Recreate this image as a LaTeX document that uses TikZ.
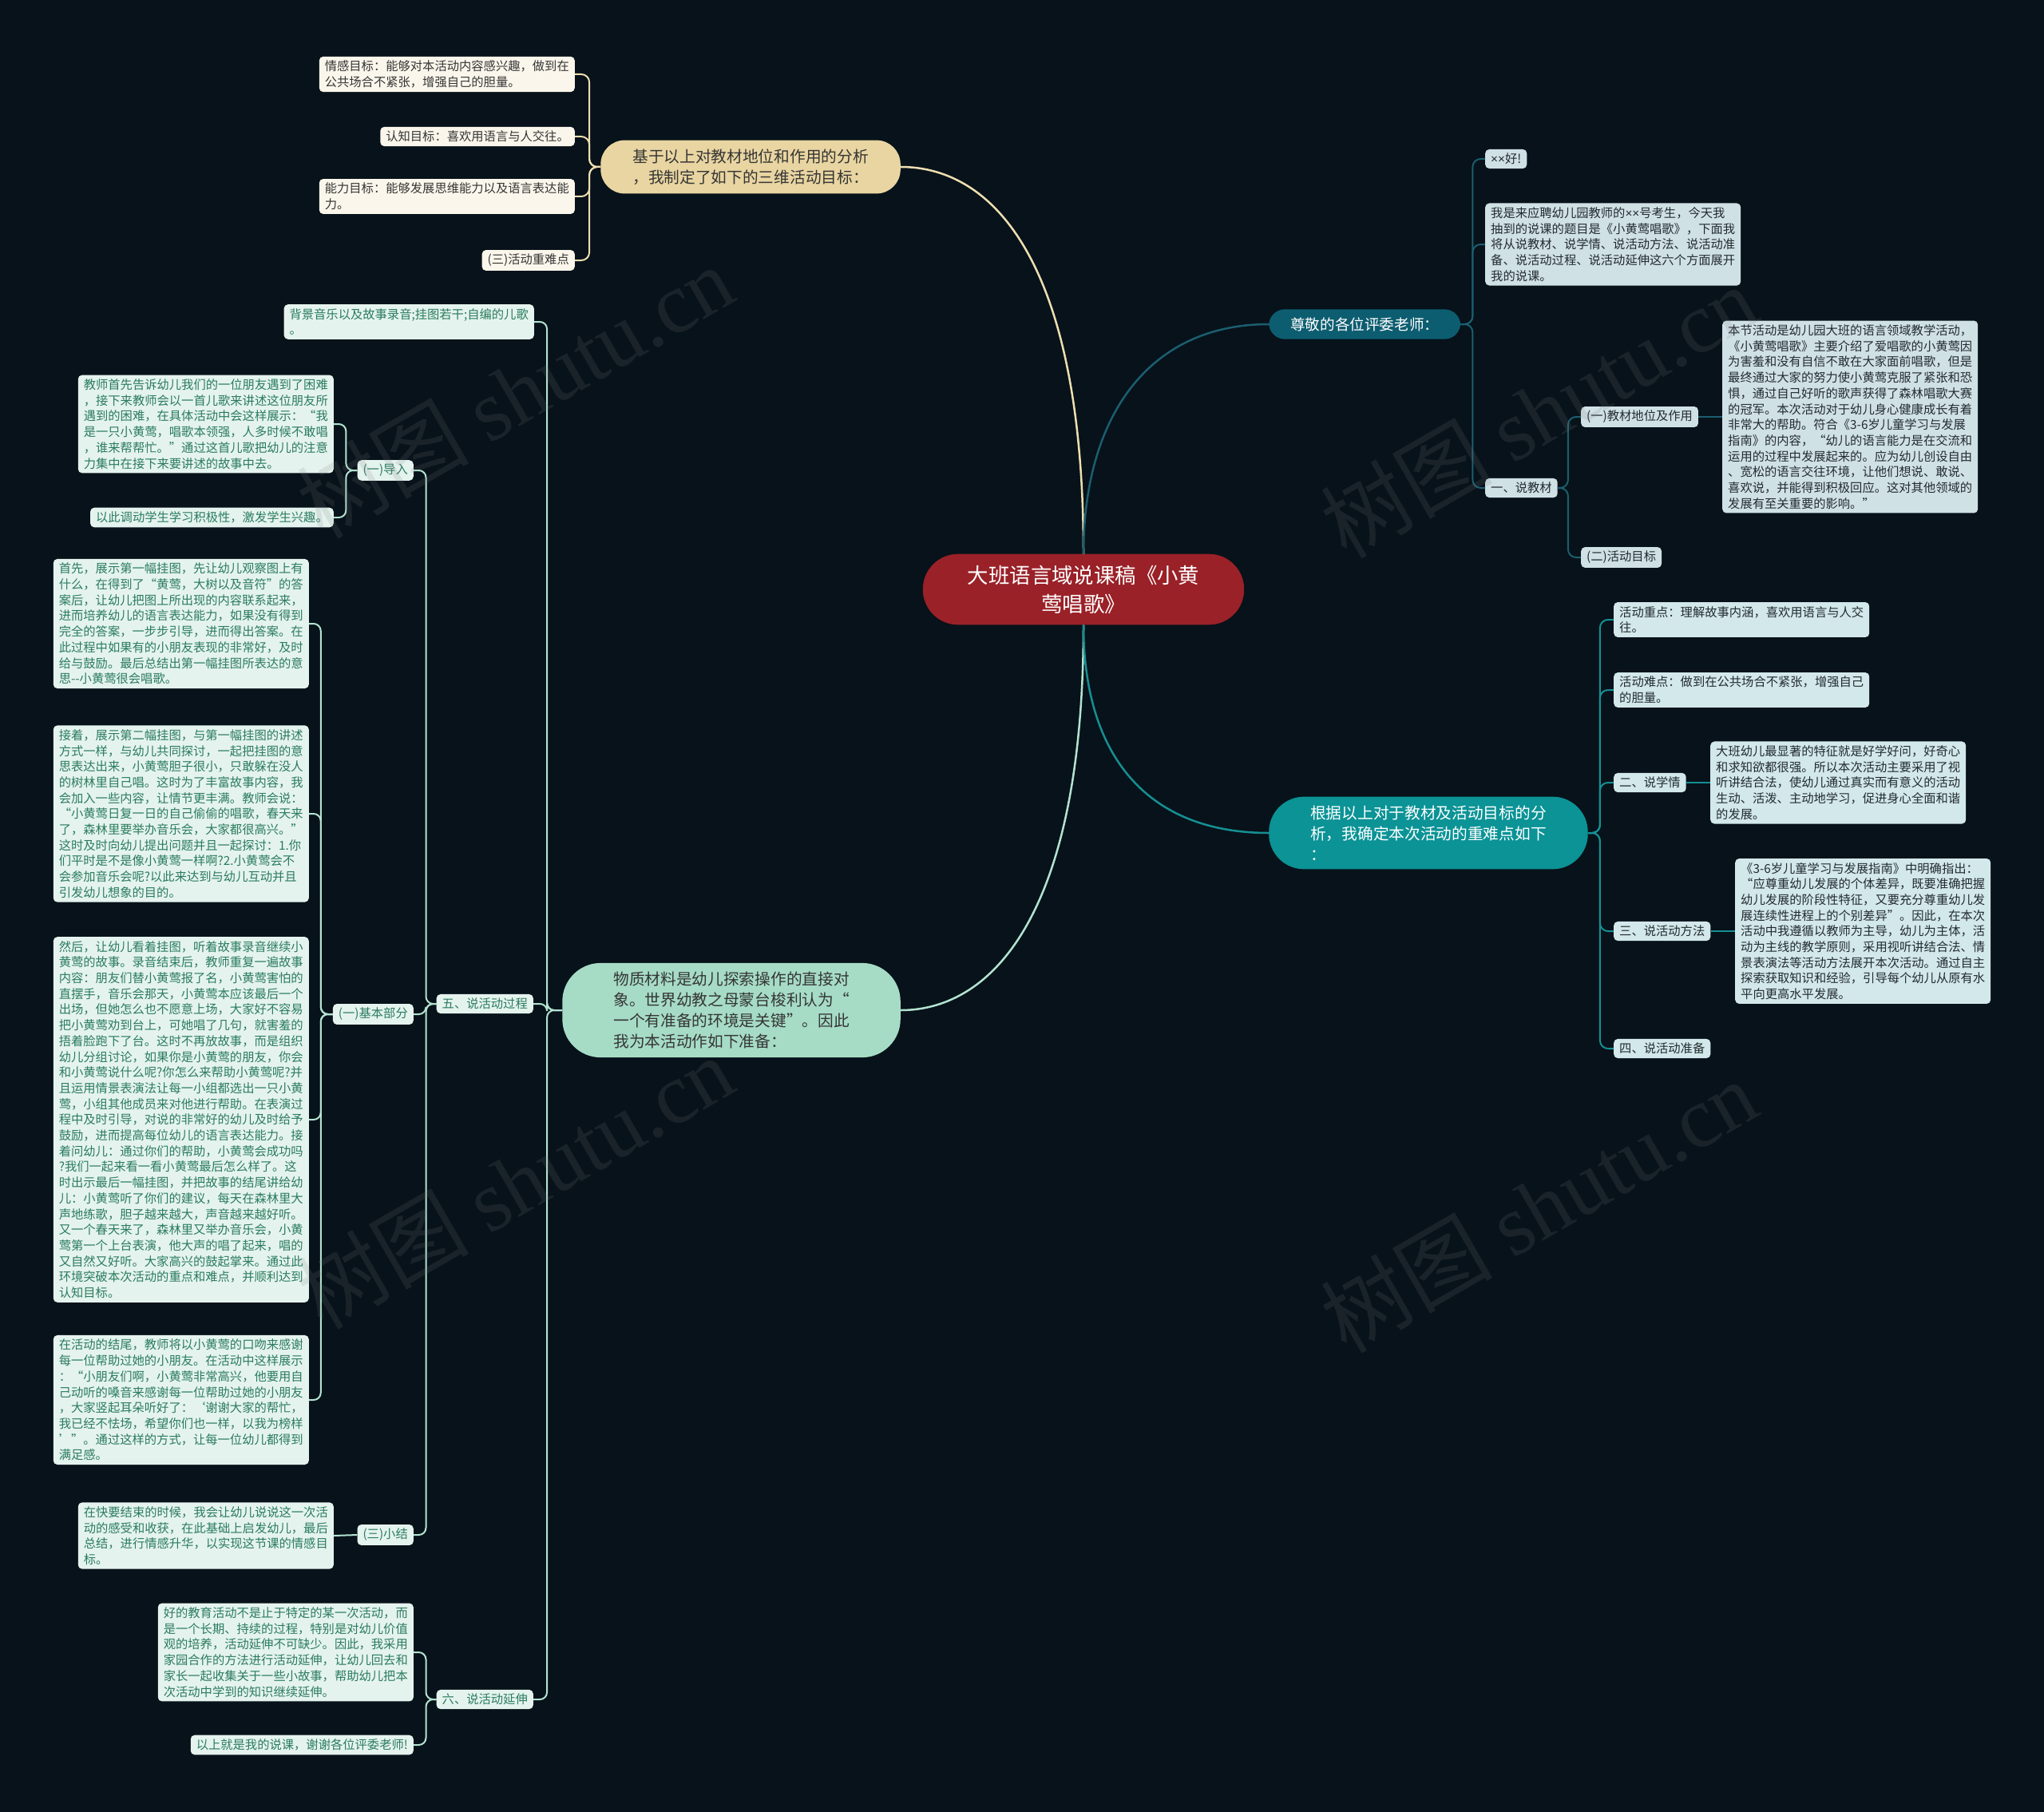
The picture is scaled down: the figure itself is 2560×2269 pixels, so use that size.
\documentclass[tikz,border=0pt]{standalone}
\usepackage{fontspec}
\setmainfont{Noto Sans CJK SC}
\newfontfamily\wmlatin{Liberation Serif}
\newfontfamily\latinf{Liberation Sans}
\newcommand\tms{{\latinf ×}}
\newcommand\fleaf{\fontsize{15.3pt}{19.7pt}\selectfont}
\newcommand\fbranch{\fontsize{19.7pt}{26pt}\selectfont}
\newcommand\fzun{\fontsize{18.6pt}{24pt}\selectfont}
\newcommand\fcentre{\fontsize{26.4pt}{36pt}\selectfont}
\definecolor{bgc}{HTML}{07121A}
\definecolor{centrefill}{HTML}{9A2128}
\definecolor{yfill}{HTML}{E9D5A1}
\definecolor{ylc}{HTML}{EEDFB0}
\definecolor{creamfill}{HTML}{FBF6EB}
\definecolor{creamtext}{HTML}{353535}
\definecolor{gfill}{HTML}{A6DCC6}
\definecolor{glc}{HTML}{B3E3D0}
\definecolor{mintfill}{HTML}{E5F3EE}
\definecolor{minttext}{HTML}{2A7C5F}
\definecolor{zfill}{HTML}{0D5D70}
\definecolor{zlc}{HTML}{1B5E6F}
\definecolor{bluefill}{HTML}{D0E1E6}
\definecolor{bluetext}{HTML}{222B30}
\definecolor{tfill}{HTML}{0B9396}
\definecolor{tlc}{HTML}{168F92}
\definecolor{aquafill}{HTML}{D3E8EA}
\tikzset{
  leafbase/.style={rounded corners=5pt, inner xsep=7pt, inner ysep=5pt, align=left, font=\fleaf},
  lfcream/.style={leafbase, fill=creamfill, text=creamtext},
  lfmint/.style={leafbase, fill=mintfill, text=minttext},
  lfblue/.style={leafbase, fill=bluefill, text=bluetext},
  lfaqua/.style={leafbase, fill=aquafill, text=bluetext},
  ybranch/.style={fill=yfill, text=creamtext, rounded corners=30pt, inner xsep=40pt, inner ysep=11pt, align=left, font=\fbranch},
  gbranch/.style={fill=gfill, text=creamtext, rounded corners=48pt, inner xsep=64pt, inner ysep=11pt, align=left, font=\fbranch},
  zbranch/.style={fill=zfill, text=white, rounded corners=20pt, inner xsep=27pt, inner ysep=10pt, align=left, font=\fzun},
  tbranch/.style={fill=tfill, text=white, rounded corners=44pt, inner xsep=52pt, inner ysep=11pt, align=left, font=\fbranch},
  centrebox/.style={fill=centrefill, text=white, rounded corners=44pt, inner xsep=56pt, inner ysep=14pt, align=center, font=\fcentre},
  ylink/.style={draw=ylc, line width=2pt, rounded corners=10pt},
  glink/.style={draw=glc, line width=2pt, rounded corners=9pt},
  zlink/.style={draw=zlc, line width=2pt, rounded corners=10pt},
  tlink/.style={draw=tlc, line width=2pt, rounded corners=10pt},
  toL/.style={to path={-- ++(-#1,0) |- (\tikztotarget)}},
  toR/.style={to path={-- ++(#1,0) |- (\tikztotarget)}},
  wmark/.style={rotate=30, text=gray, text opacity=0.16, font=\fontsize{108pt}{108pt}\selectfont},
}
\begin{document}
\begin{tikzpicture}[x=1pt,y=-1pt]
\fill[bgc] (0,0) rectangle (2560,2269);
\useasboundingbox (0,0) rectangle (2560,2269);

% centre and branches
\node[centrebox] (C) at (1357,738) {大班语言域说课稿《小黄\\莺唱歌》};
\node[ybranch, anchor=east] (Y) at (1128,209) {基于以上对教材地位和作用的分析\\，我制定了如下的三维活动目标：};
\node[gbranch, anchor=east] (G) at (1128,1265) {物质材料是幼儿探索操作的直接对\\象。世界幼教之母蒙台梭利认为“\\一个有准备的环境是关键”。因此\\我为本活动作如下准备：};
\node[zbranch, anchor=west] (Z) at (1589,406) {尊敬的各位评委老师：};
\node[tbranch, anchor=west] (T) at (1589,1043) {根据以上对于教材及活动目标的分\\析，我确定本次活动的重难点如下\\：};

% yellow subtree
\node[lfcream, anchor=east] (Y1) at (720,93) {情感目标：能够对本活动内容感兴趣，做到在\\公共场合不紧张，增强自己的胆量。};
\node[lfcream, anchor=east] (Y2) at (720,171) {认知目标：喜欢用语言与人交往。};
\node[lfcream, anchor=east] (Y3) at (720,246) {能力目标：能够发展思维能力以及语言表达能\\力。};
\node[lfcream, anchor=east] (Y4) at (720,326) {(三)活动重难点};

% green subtree
\node[lfmint, anchor=east] (G1) at (669,403) {背景音乐以及故事录音;挂图若干;自编的儿歌\\。};
\node[lfmint, anchor=east] (G5) at (668,1257) {五、说活动过程};
\node[lfmint, anchor=east] (G6) at (668,2128) {六、说活动延伸};

\node[lfmint, anchor=east] (P1) at (518,589) {(一)导入};
\node[lfmint, anchor=east] (P2) at (518,1270) {(一)基本部分};
\node[lfmint, anchor=east] (P3) at (518,1922) {(三)小结};

\node[lfmint, anchor=east] (A1) at (418,531) {教师首先告诉幼儿我们的一位朋友遇到了困难\\，接下来教师会以一首儿歌来讲述这位朋友所\\遇到的困难，在具体活动中会这样展示：“我\\是一只小黄莺，唱歌本领强，人多时候不敢唱\\，谁来帮帮忙。”通过这首儿歌把幼儿的注意\\力集中在接下来要讲述的故事中去。};
\node[lfmint, anchor=east] (A2) at (418,648) {以此调动学生学习积极性，激发学生兴趣。};

\node[lfmint, anchor=east] (B1) at (387,781) {首先，展示第一幅挂图，先让幼儿观察图上有\\什么，在得到了“黄莺，大树以及音符”的答\\案后，让幼儿把图上所出现的内容联系起来，\\进而培养幼儿的语言表达能力，如果没有得到\\完全的答案，一步步引导，进而得出答案。在\\此过程中如果有的小朋友表现的非常好，及时\\给与鼓励。最后总结出第一幅挂图所表达的意\\思-{}-小黄莺很会唱歌。};
\node[lfmint, anchor=east] (B2) at (387,1019) {接着，展示第二幅挂图，与第一幅挂图的讲述\\方式一样，与幼儿共同探讨，一起把挂图的意\\思表达出来，小黄莺胆子很小，只敢躲在没人\\的树林里自己唱。这时为了丰富故事内容，我\\会加入一些内容，让情节更丰满。教师会说：\\“小黄莺日复一日的自己偷偷的唱歌，春天来\\了，森林里要举办音乐会，大家都很高兴。”\\这时及时向幼儿提出问题并且一起探讨：1.你\\们平时是不是像小黄莺一样啊?2.小黄莺会不\\会参加音乐会呢?以此来达到与幼儿互动并且\\引发幼儿想象的目的。};
\node[lfmint, anchor=east] (B3) at (387,1402) {然后，让幼儿看着挂图，听着故事录音继续小\\黄莺的故事。录音结束后，教师重复一遍故事\\内容：朋友们替小黄莺报了名，小黄莺害怕的\\直摆手，音乐会那天，小黄莺本应该最后一个\\出场，但她怎么也不愿意上场，大家好不容易\\把小黄莺劝到台上，可她唱了几句，就害羞的\\捂着脸跑下了台。这时不再放故事，而是组织\\幼儿分组讨论，如果你是小黄莺的朋友，你会\\和小黄莺说什么呢?你怎么来帮助小黄莺呢?并\\且运用情景表演法让每一小组都选出一只小黄\\莺，小组其他成员来对他进行帮助。在表演过\\程中及时引导，对说的非常好的幼儿及时给予\\鼓励，进而提高每位幼儿的语言表达能力。接\\着问幼儿：通过你们的帮助，小黄莺会成功吗\\?我们一起来看一看小黄莺最后怎么样了。这\\时出示最后一幅挂图，并把故事的结尾讲给幼\\儿：小黄莺听了你们的建议，每天在森林里大\\声地练歌，胆子越来越大，声音越来越好听。\\又一个春天来了，森林里又举办音乐会，小黄\\莺第一个上台表演，他大声的唱了起来，唱的\\又自然又好听。大家高兴的鼓起掌来。通过此\\环境突破本次活动的重点和难点，并顺利达到\\认知目标。};
\node[lfmint, anchor=east] (B4) at (387,1753) {在活动的结尾，教师将以小黄莺的口吻来感谢\\每一位帮助过她的小朋友。在活动中这样展示\\：“小朋友们啊，小黄莺非常高兴，他要用自\\己动听的嗓音来感谢每一位帮助过她的小朋友\\，大家竖起耳朵听好了：‘谢谢大家的帮忙，\\我已经不怯场，希望你们也一样，以我为榜样\\’”。通过这样的方式，让每一位幼儿都得到\\满足感。};

\node[lfmint, anchor=east] (S1) at (418,1923) {在快要结束的时候，我会让幼儿说说这一次活\\动的感受和收获，在此基础上启发幼儿，最后\\总结，进行情感升华，以实现这节课的情感目\\标。};

\node[lfmint, anchor=east] (E1) at (518,2069) {好的教育活动不是止于特定的某一次活动，而\\是一个长期、持续的过程，特别是对幼儿价值\\观的培养，活动延伸不可缺少。因此，我采用\\家园合作的方法进行活动延伸，让幼儿回去和\\家长一起收集关于一些小故事，帮助幼儿把本\\次活动中学到的知识继续延伸。};
\node[lfmint, anchor=east] (E2) at (518,2185) {以上就是我的说课，谢谢各位评委老师!};

% dark teal subtree
\node[lfblue, anchor=west] (Z1) at (1860,199) {\tms\tms 好!};
\node[lfblue, anchor=west] (Z2) at (1860,306) {我是来应聘幼儿园教师的\tms\tms 号考生，今天我\\抽到的说课的题目是《小黄莺唱歌》，下面我\\将从说教材、说学情、说活动方法、说活动准\\备、说活动过程、说活动延伸这六个方面展开\\我的说课。};
\node[lfblue, anchor=west] (Z3) at (1860,611) {一、说教材};
\node[lfblue, anchor=west] (M1) at (1980,522) {(一)教材地位及作用};
\node[lfblue, anchor=west] (M2) at (1980,698) {(二)活动目标};
\node[lfblue, anchor=west] (L1) at (2157,522) {本节活动是幼儿园大班的语言领域教学活动，\\《小黄莺唱歌》主要介绍了爱唱歌的小黄莺因\\为害羞和没有自信不敢在大家面前唱歌，但是\\最终通过大家的努力使小黄莺克服了紧张和恐\\惧，通过自己好听的歌声获得了森林唱歌大赛\\的冠军。本次活动对于幼儿身心健康成长有着\\非常大的帮助。符合《3-6岁儿童学习与发展\\指南》的内容，“幼儿的语言能力是在交流和\\运用的过程中发展起来的。应为幼儿创设自由\\、宽松的语言交往环境，让他们想说、敢说、\\喜欢说，并能得到积极回应。这对其他领域的\\发展有至关重要的影响。”};

% teal subtree
\node[lfaqua, anchor=west] (T1) at (2021,776) {活动重点：理解故事内涵，喜欢用语言与人交\\往。};
\node[lfaqua, anchor=west] (T2) at (2021,864) {活动难点：做到在公共场合不紧张，增强自己\\的胆量。};
\node[lfaqua, anchor=west] (T3) at (2021,980) {二、说学情};
\node[lfaqua, anchor=west] (T4) at (2021,1166) {三、说活动方法};
\node[lfaqua, anchor=west] (T5) at (2021,1313) {四、说活动准备};
\node[lfaqua, anchor=west] (R1) at (2142,980) {大班幼儿最显著的特征就是好学好问，好奇心\\和求知欲都很强。所以本次活动主要采用了视\\听讲结合法，使幼儿通过真实而有意义的活动\\生动、活泼、主动地学习，促进身心全面和谐\\的发展。};
\node[lfaqua, anchor=west] (R2) at (2173,1166) {《3-6岁儿童学习与发展指南》中明确指出：\\“应尊重幼儿发展的个体差异，既要准确把握\\幼儿发展的阶段性特征，又要充分尊重幼儿发\\展连续性进程上的个别差异”。因此，在本次\\活动中我遵循以教师为主导，幼儿为主体，活\\动为主线的教学原则，采用视听讲结合法、情\\景表演法等活动方法展开本次活动。通过自主\\探索获取知识和经验，引导每个幼儿从原有水\\平向更高水平发展。};

% main curves
\draw[ylc, line width=2.5pt] (C.north) .. controls (1357,340) and (1250,209) .. (Y.east);
\draw[zlc, line width=2.5pt] (C.north) .. controls (1357,520) and (1440,406) .. (Z.west);
\draw[glc, line width=2.5pt] (C.south) .. controls (1357,1140) and (1245,1265) .. (G.east);
\draw[tlc, line width=2.5pt] (C.south) .. controls (1357,950) and (1440,1043) .. (T.west);

% yellow connectors
\foreach \k in {Y1,Y2,Y3,Y4} \draw[ylink] (Y.west) to[toL=14] (\k.east);
% green connectors
\foreach \k in {G1,G5,G6} \draw[glink] (G.west) to[toL=19] (\k.east);
\foreach \k in {P1,P2,P3} \draw[glink] (G5.west) to[toL=13] (\k.east);
\foreach \k in {A1,A2} \draw[glink] (P1.west) to[toL=14] (\k.east);
\foreach \k in {B1,B2,B3,B4} \draw[glink] (P2.west) to[toL=15] (\k.east);
\draw[glink] (P3.west) -- (S1.east);
\foreach \k in {E1,E2} \draw[glink] (G6.west) to[toL=13] (\k.east);
% dark teal connectors
\foreach \k in {Z1,Z2,Z3} \draw[zlink] (Z.east) to[toR=15] (\k.west);
\foreach \k in {M1,M2} \draw[zlink] (Z3.east) to[toR=13] (\k.west);
\draw[zlink] (M1.east) -- (L1.west);
% teal connectors
\foreach \k in {T1,T2,T3,T4,T5} \draw[tlink] (T.east) to[toR=15] (\k.west);
\draw[tlink] (T3.east) -- (R1.west);
\draw[tlink] (T4.east) -- (R2.west);

% watermarks
\node[wmark] (W1) at (645,490) {树图 {\wmlatin shutu.cn}};
\node[wmark] (W2) at (645,1480) {树图 {\wmlatin shutu.cn}};
\node[wmark] (W3) at (1927,515) {树图 {\wmlatin shutu.cn}};
\node[wmark] (W4) at (1927,1510) {树图 {\wmlatin shutu.cn}};
\end{tikzpicture}
\end{document}
